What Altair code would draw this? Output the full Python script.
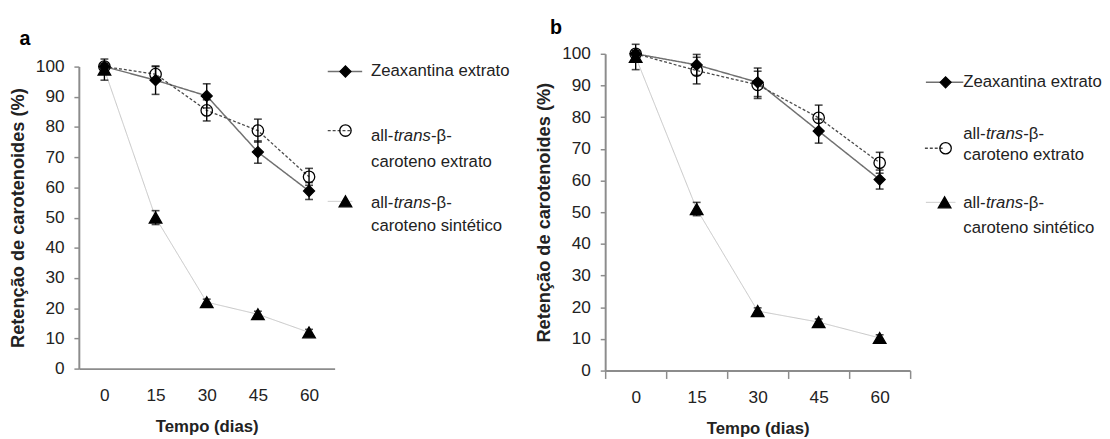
import altair as alt
import pandas as pd

# ---------------- data ----------------
dias = [0, 15, 30, 45, 60]
series = ["Zeaxantina extrato", "all-trans-β-caroteno extrato", "all-trans-β-caroteno sintético"]

# panel a
zea_a = [100, 95.5, 90.3, 71.7, 58.8]
zea_a_err = [1.0, 4.7, 4.0, 3.7, 2.8]
ext_a = [100, 97.5, 85.5, 78.8, 63.5]
ext_a_err = [1.0, 2.5, 3.5, 3.8, 2.8]
sin_a = [99, 50, 22, 18, 12]
sin_a_err = [3.5, 2.3, 1.0, 1.0, 1.0]

# panel b
zea_b = [100, 96.5, 91, 75.6, 60.3]
zea_b_err = [1.0, 3.3, 4.5, 3.8, 3.0]
ext_b = [100, 94.7, 90.2, 79.8, 65.6]
ext_b_err = [1.0, 4.2, 4.3, 4.0, 3.3]
sin_b = [99, 51, 18.8, 15.3, 10.3]
sin_b_err = [4.0, 2.1, 1.0, 1.0, 1.0]

y_ticks = [0, 10, 20, 30, 40, 50, 60, 70, 80, 90, 100]

# ---------------- styling ----------------
SANS = "Liberation Sans"
TXT = "#222222"
AXC = "#8c8c8c"

color_scale = alt.Scale(domain=series, range=["#707070", "#4a4a4a", "#c4c4c4"])
dash_scale = alt.Scale(domain=series, range=[[1, 0], [3, 2], [1, 0]])
width_scale = alt.Scale(type="ordinal", domain=series, range=[1.5, 1.3, 1.0])
shape_scale = alt.Scale(domain=series, range=["diamond", "circle", "triangle-up"])
size_scale = alt.Scale(type="ordinal", domain=series, range=[125, 135, 165])
fill_scale = alt.Scale(domain=series, range=["#000000", "transparent", "#000000"])


def panel_df(vals, errs):
    rows = []
    for s, v, e in zip(series, vals, errs):
        for d, y, err in zip(dias, v, e):
            rows.append({"dia": d, "serie": s, "valor": y, "lo": y - err, "hi": y + err})
    return pd.DataFrame(rows)


def make_panel(df, width, height, top, tick_color, title_text, title_offset, title_dx):
    x_axis = alt.Axis(title="Tempo (dias)", labelAngle=0, ticks=True, tickBand="extent",
                      tickSize=8, tickColor=tick_color, tickWidth=1.5, labelPadding=10,
                      domainColor=AXC, domainWidth=2, labelFont=SANS, labelFontSize=17.5,
                      labelColor=TXT, titleFont=SANS, titleFontSize=17, titleFontWeight="bold",
                      titleColor=TXT, titlePadding=15)
    y_axis = alt.Axis(title="Retenção de carotenoides (%)", values=y_ticks, grid=False,
                      tickSize=5, tickColor=AXC, tickWidth=1.5, labelPadding=10,
                      domainColor=AXC, domainWidth=2, labelFont=SANS, labelFontSize=17.5,
                      labelColor=TXT, titleFont=SANS, titleFontSize=18.5, titleFontWeight="bold",
                      titleColor=TXT, titlePadding=8, titleY=(height + top) / 2)
    xscale = alt.Scale(type="band", paddingInner=0, paddingOuter=0)
    yscale = alt.Scale(domain=[0, 100], range=[height, top])
    x = alt.X("dia:O", scale=xscale, axis=x_axis, bandPosition=0.5)
    base = alt.Chart(df)

    lines = base.mark_line().encode(
        x=x,
        y=alt.Y("valor:Q", scale=yscale, axis=y_axis),
        color=alt.Color("serie:N", scale=color_scale, legend=None),
        strokeDash=alt.StrokeDash("serie:N", scale=dash_scale, legend=None),
        strokeWidth=alt.StrokeWidth("serie:N", scale=width_scale, legend=None),
    )
    bars = base.mark_rule(color="black", strokeWidth=1.4).encode(
        x=x, y=alt.Y("lo:Q", scale=yscale, axis=y_axis), y2="hi:Q"
    )
    cap_lo = base.mark_tick(color="black", thickness=1.6, size=8).encode(
        x=x, y=alt.Y("lo:Q", scale=yscale, axis=y_axis)
    )
    cap_hi = base.mark_tick(color="black", thickness=1.6, size=8).encode(
        x=x, y=alt.Y("hi:Q", scale=yscale, axis=y_axis)
    )
    points = base.mark_point(filled=True, stroke="black", strokeWidth=1.3, opacity=1).encode(
        x=x,
        y=alt.Y("valor:Q", scale=yscale, axis=y_axis),
        shape=alt.Shape("serie:N", scale=shape_scale, legend=None),
        size=alt.Size("serie:N", scale=size_scale, legend=None),
        fill=alt.Fill("serie:N", scale=fill_scale, legend=None),
    )
    return alt.layer(lines, bars, cap_lo, cap_hi, points).properties(
        width=width, height=height,
        title=alt.TitleParams(title_text, anchor="start", font=SANS, fontSize=20,
                              fontWeight="bold", color="#000000", offset=title_offset, dx=title_dx),
    )


def make_legend(lines_geo, sym_geo, text_rows, width, height):
    ldf = pd.DataFrame({
        "serie": series,
        "x1": [g[0] for g in lines_geo],
        "x2": [g[1] for g in lines_geo],
        "yl": [g[2] for g in lines_geo],
        "xs": [g[0] for g in sym_geo],
        "ys": [g[1] for g in sym_geo],
    })
    tdf = pd.DataFrame(text_rows, columns=["tx", "ty", "t", "italic"])
    rule = alt.Chart(ldf).mark_rule().encode(
        x=alt.X("x1:Q", scale=None, axis=None),
        x2="x2:Q",
        y=alt.Y("yl:Q", scale=None, axis=None),
        color=alt.Color("serie:N", scale=color_scale, legend=None),
        strokeDash=alt.StrokeDash("serie:N", scale=dash_scale, legend=None),
        strokeWidth=alt.StrokeWidth("serie:N", scale=width_scale, legend=None),
    )
    sym = alt.Chart(ldf).mark_point(filled=True, stroke="black", strokeWidth=1.3, opacity=1).encode(
        x=alt.X("xs:Q", scale=None, axis=None),
        y=alt.Y("ys:Q", scale=None, axis=None),
        shape=alt.Shape("serie:N", scale=shape_scale, legend=None),
        size=alt.Size("serie:N", scale=size_scale, legend=None),
        fill=alt.Fill("serie:N", scale=fill_scale, legend=None),
    )
    txt_n = alt.Chart(tdf).transform_filter("!datum.italic").mark_text(
        align="left", baseline="middle", font=SANS, fontSize=17, color=TXT
    ).encode(x=alt.X("tx:Q", scale=None, axis=None), y=alt.Y("ty:Q", scale=None, axis=None), text="t:N")
    txt_i = alt.Chart(tdf).transform_filter("datum.italic").mark_text(
        align="left", baseline="middle", font=SANS, fontSize=17, fontStyle="italic", color=TXT
    ).encode(x=alt.X("tx:Q", scale=None, axis=None), y=alt.Y("ty:Q", scale=None, axis=None), text="t:N")
    return alt.layer(rule, sym, txt_n, txt_i).properties(width=width, height=height)


def legend_text(x0, y_single, y_l1, y_l2, y_l3, y_l4):
    return [
        (x0, y_single, "Zeaxantina extrato", False),
        (x0, y_l1, "all-", False), (x0 + 23, y_l1, "trans", True), (x0 + 61, y_l1, "-β-", False),
        (x0, y_l2, "caroteno extrato", False),
        (x0, y_l3, "all-", False), (x0 + 23, y_l3, "trans", True), (x0 + 61, y_l3, "-β-", False),
        (x0, y_l4, "caroteno sintético", False),
    ]


panel_a = make_panel(panel_df([zea_a, ext_a, sin_a], [zea_a_err, ext_a_err, sin_a_err]),
                     260, 320, 13, "transparent", "a", 5, 11)
panel_b = make_panel(panel_df([zea_b, ext_b, sin_b], [zea_b_err, ext_b_err, sin_b_err]),
                     310, 322, 0, AXC, "b", 6, 15)

legend_a = make_legend([(-17, 18, 18), (-17, 8, 78), (-17, 8, 150)],
                       [(1, 18), (1, 78), (1, 150)],
                       legend_text(27, 18, 84, 110, 152, 175), 255, 320)
legend_b = make_legend([(6, 44, 29), (5, 23, 96), (6, 36, 151)],
                       [(26, 29), (26, 96), (25, 151)],
                       legend_text(44, 29, 82, 103, 152, 177), 150, 322)

chart = alt.hconcat(panel_a, legend_a, panel_b, legend_b, spacing=10, bounds="flush").properties(
    padding={"left": 0, "top": 6, "right": 0, "bottom": 0}
).configure_view(stroke=None)

chart.save("out.html", embed_options={"renderer": "svg", "actions": False})
